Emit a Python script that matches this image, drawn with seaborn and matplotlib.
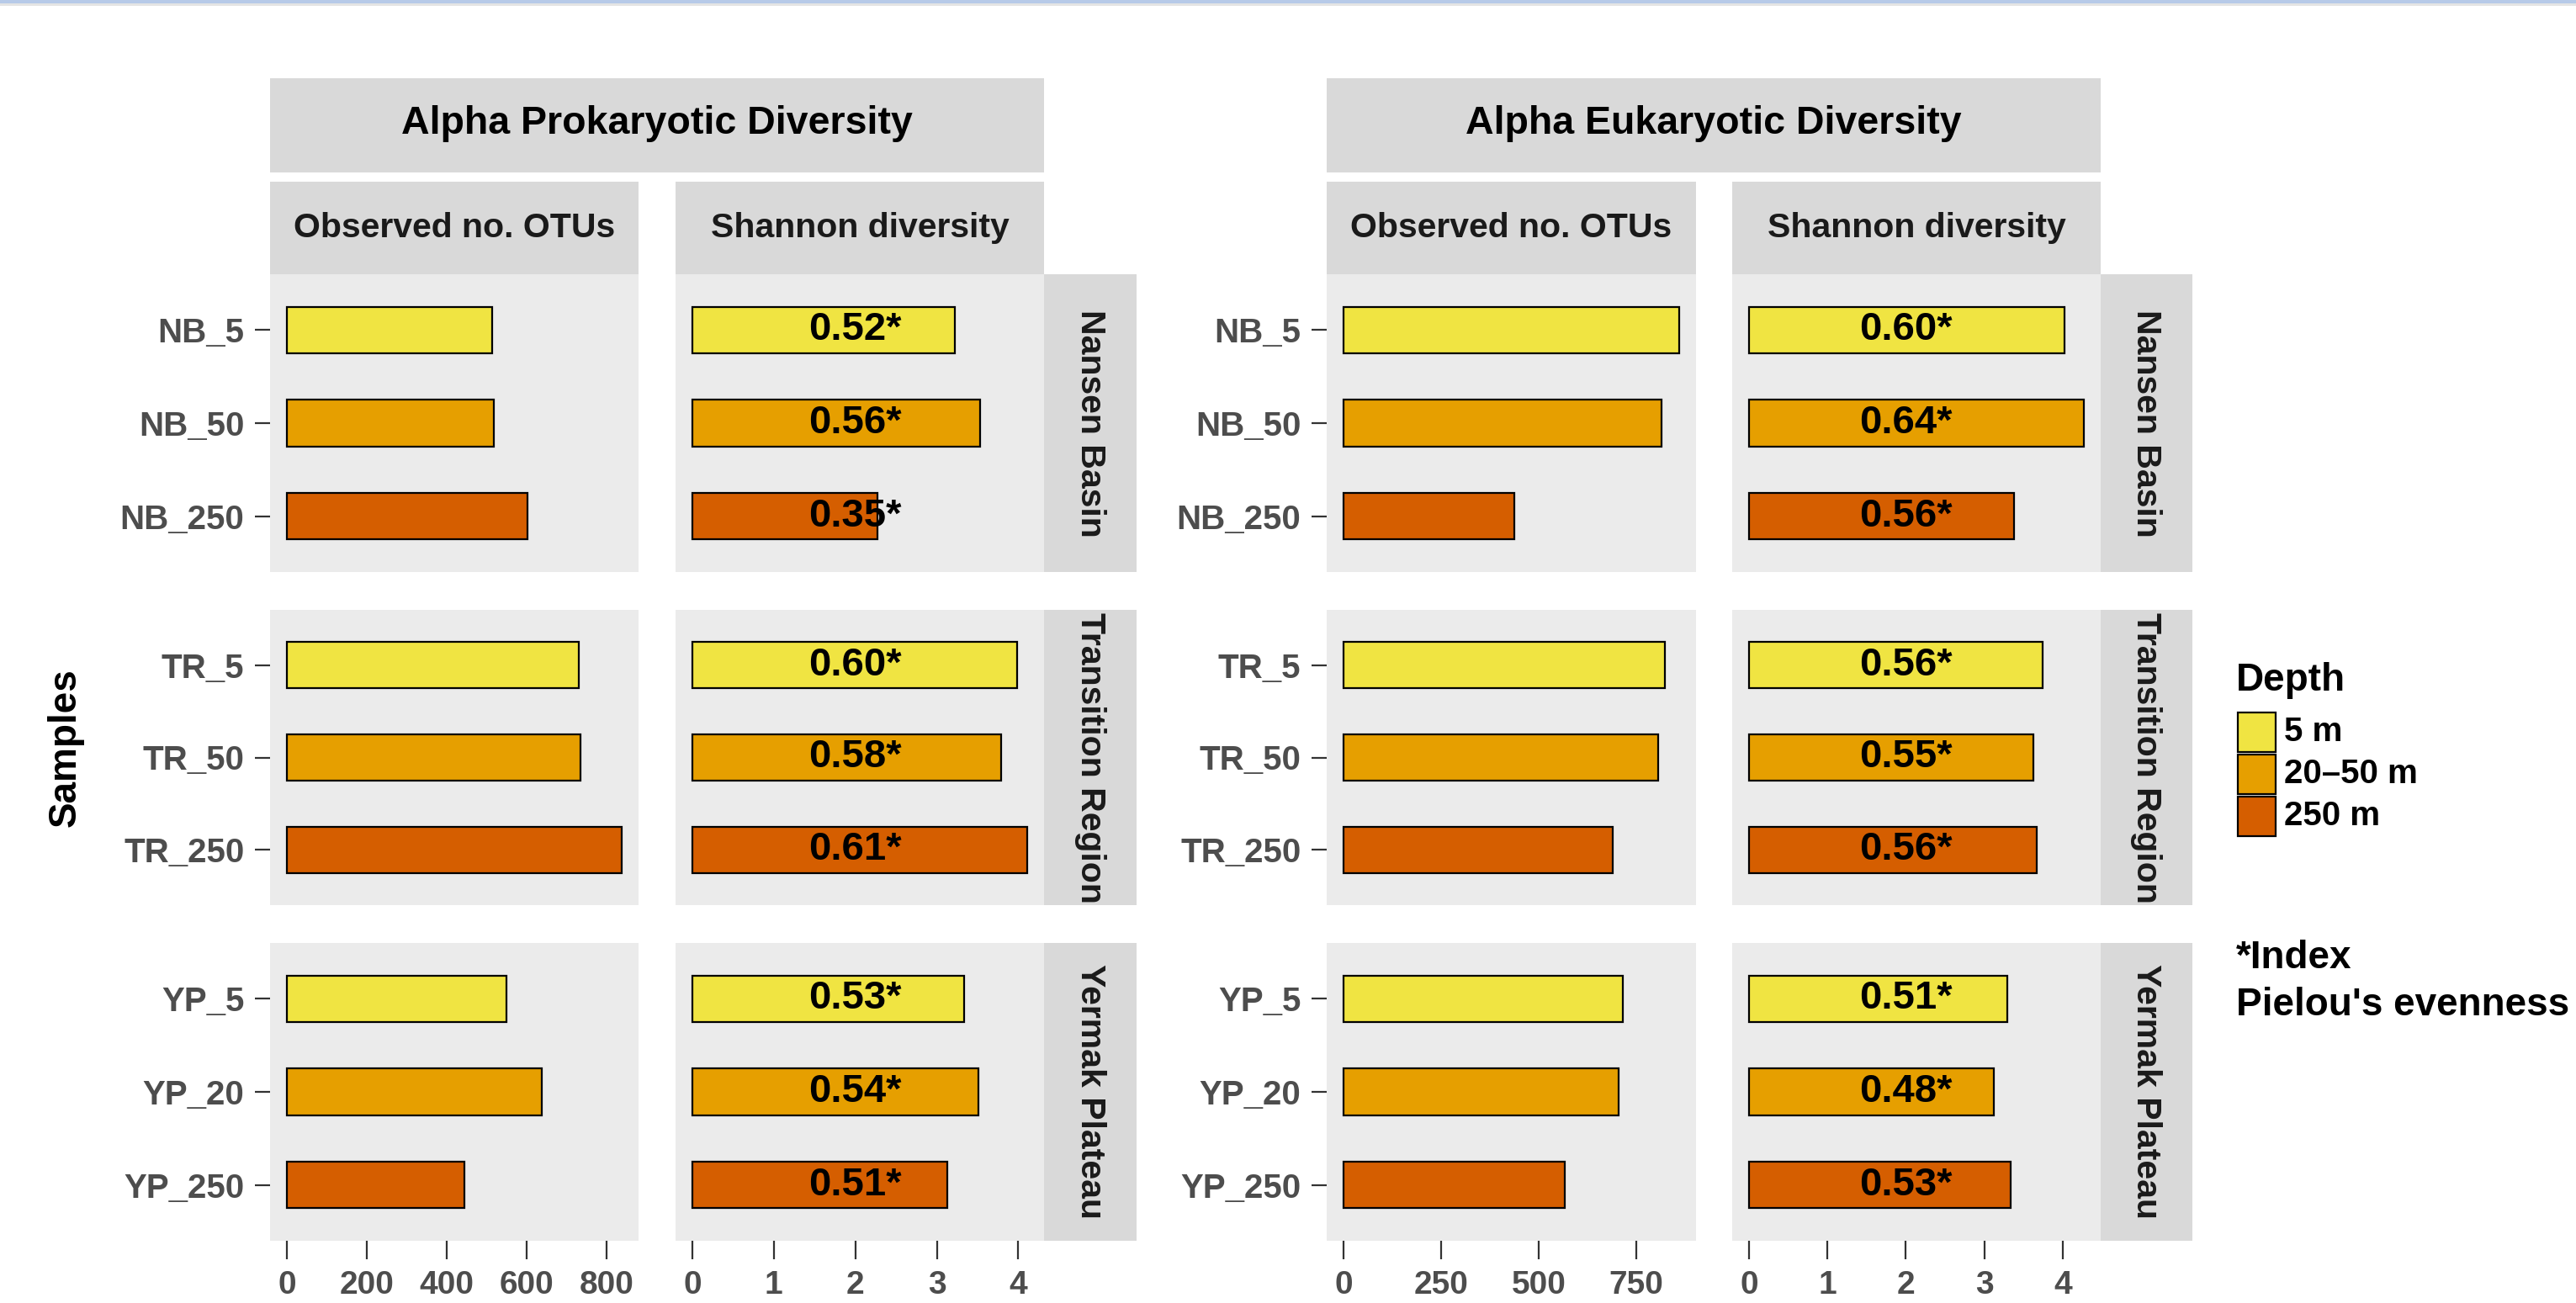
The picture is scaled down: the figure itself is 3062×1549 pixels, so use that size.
import matplotlib
matplotlib.use("Agg")
import matplotlib.pyplot as plt
import seaborn as sns
import pandas as pd
import numpy as np
from matplotlib.patches import Rectangle

# ---- data ----
regions = ["Nansen Basin", "Transition Region", "Yermak Plateau"]
samples = [["NB_5", "NB_50", "NB_250"],
           ["TR_5", "TR_50", "TR_250"],
           ["YP_5", "YP_20", "YP_250"]]
depths = ["5 m", "20–50 m", "250 m"]
depth_colors = ["#F0E442", "#E69F00", "#D55E00"]

prok_otus = [513, 518, 601, 730, 734, 837, 548, 638, 443]
prok_shannon = [3.22, 3.53, 2.27, 3.99, 3.79, 4.11, 3.34, 3.51, 3.13]
prok_pielou = ["0.52", "0.56", "0.35", "0.60", "0.58", "0.61", "0.53", "0.54", "0.51"]

euk_otus = [860, 815, 438, 824, 807, 690, 716, 705, 566]
euk_shannon = [4.02, 4.27, 3.38, 3.74, 3.63, 3.67, 3.29, 3.12, 3.34]
euk_pielou = ["0.60", "0.64", "0.56", "0.56", "0.55", "0.56", "0.51", "0.48", "0.53"]

prok_otu_ticks = [0, 200, 400, 600, 800]
euk_otu_ticks = [0, 250, 500, 750]
shannon_ticks = [0, 1, 2, 3, 4]

df = pd.DataFrame({
    "region": np.repeat(regions, 3),
    "sample": sum(samples, []),
    "depth": depths * 3,
    "prok_otus": prok_otus,
    "prok_shannon": prok_shannon,
    "prok_pielou": prok_pielou,
    "euk_otus": euk_otus,
    "euk_shannon": euk_shannon,
    "euk_pielou": euk_pielou,
})

sns.set_theme(style="white")
plt.rcParams["font.family"] = ["Liberation Sans", "DejaVu Sans"]
plt.rcParams["font.weight"] = "bold"

W, H = 3062, 1549
DPI = 100
fig = plt.figure(figsize=(W / DPI, H / DPI), dpi=DPI)
fig.patch.set_facecolor("white")

STRIP = "#D9D9D9"
PANEL = "#EBEBEB"


def add_box(x0, y0, x1, y1, color):
    fig.add_artist(Rectangle((x0 / W, 1 - y1 / H), (x1 - x0) / W, (y1 - y0) / H,
                             transform=fig.transFigure, facecolor=color,
                             edgecolor="none", zorder=0))


def add_text(x, y, s, size, color="#1A1A1A", rot=0, ha="center"):
    fig.text(x / W, 1 - y / H, s, ha=ha, va="center", rotation=rot,
             fontsize=size, fontweight="bold", color=color)


# thin window bar at the very top of the screenshot
add_box(0, 0, W, 4, "#B7CAE8")
add_box(0, 4, W, 7, "#E4E4E4")

row_y = [(326, 680), (725, 1076), (1121, 1475)]
groups = [
    ("prok", "Alpha Prokaryotic Diversity", (321, 759), (803, 1241), 1351, prok_otu_ticks),
    ("euk", "Alpha Eukaryotic Diversity", (1577, 2016), (2059, 2497), 2606, euk_otu_ticks),
]

for key, title, obs_x, sh_x, strip_end, otu_ticks in groups:
    # big title strip + column strips
    add_box(obs_x[0], 93, sh_x[1], 205, STRIP)
    add_text((obs_x[0] + sh_x[1]) / 2, 147, title, 33.5, color="black")
    add_box(obs_x[0], 216, obs_x[1], 327, STRIP)
    add_text(sum(obs_x) / 2, 271, "Observed no. OTUs", 29.5)
    add_box(sh_x[0], 216, sh_x[1], 327, STRIP)
    add_text(sum(sh_x) / 2, 271, "Shannon diversity", 29.5)

    cols = [(f"{key}_otus", obs_x, otu_ticks), (f"{key}_shannon", sh_x, shannon_ticks)]
    for r, region in enumerate(regions):
        y0, y1 = row_y[r]
        sub = df[df["region"] == region]
        add_box(sh_x[1], y0, strip_end, y1, STRIP)
        add_text((sh_x[1] + strip_end) / 2, (y0 + y1) / 2, region, 29.5, rot=-90)

        for c, (col, (x0, x1), ticks) in enumerate(cols):
            ax = fig.add_axes([x0 / W, 1 - y1 / H, (x1 - x0) / W, (y1 - y0) / H])
            sns.barplot(data=sub, x=col, y="sample", hue="depth", order=samples[r],
                        hue_order=depths, palette=depth_colors, saturation=1,
                        orient="h", dodge=False, width=0.5, edgecolor="black",
                        linewidth=1.6, errorbar=None, legend=False, ax=ax)
            vmax = df[col].max()
            ax.set_xlim(-0.05 * vmax, 1.05 * vmax)
            ax.set_ylim(2.6, -0.6)
            ax.set_facecolor(PANEL)
            for s in ax.spines.values():
                s.set_visible(False)
            ax.set_xlabel("")
            ax.set_ylabel("")
            ax.grid(False)
            ax.set_xticks(ticks)

            if c == 0:
                ax.tick_params(axis="y", left=True, length=13, width=1.6, color="#333333",
                               labelsize=29, labelcolor="#4D4D4D", pad=9)
            else:
                ax.tick_params(axis="y", left=False, labelleft=False)
                for i, lab in enumerate(sub[f"{key}_pielou"]):
                    ax.text(2, i, lab + "*", ha="center", va="center",
                            fontsize=34, fontweight="bold", color="black")

            if r == 2:
                ax.tick_params(axis="x", bottom=True, length=16, width=1.6, color="#333333",
                               labelsize=28, labelcolor="#4D4D4D", pad=9)
            else:
                ax.tick_params(axis="x", bottom=False, labelbottom=False)

# axis title
add_text(78, 889, "Samples", 33, color="black", rot=90)

# legend
add_text(2658, 809, "Depth", 33, color="black", ha="left")
for i, (lab, colr) in enumerate(zip(depths, depth_colors)):
    ky = 846 + i * 50
    fig.add_artist(Rectangle((2660 / W, 1 - (ky + 48) / H), 45 / W, 47 / H,
                             transform=fig.transFigure, facecolor=colr,
                             edgecolor="black", linewidth=1.6))
    add_text(2715, ky + 24, lab, 29, color="black", ha="left")

add_text(2658, 1139, "*Index", 33, color="black", ha="left")
add_text(2658, 1195, "Pielou's evenness", 33, color="black", ha="left")

fig.savefig("out.png", dpi=DPI)
